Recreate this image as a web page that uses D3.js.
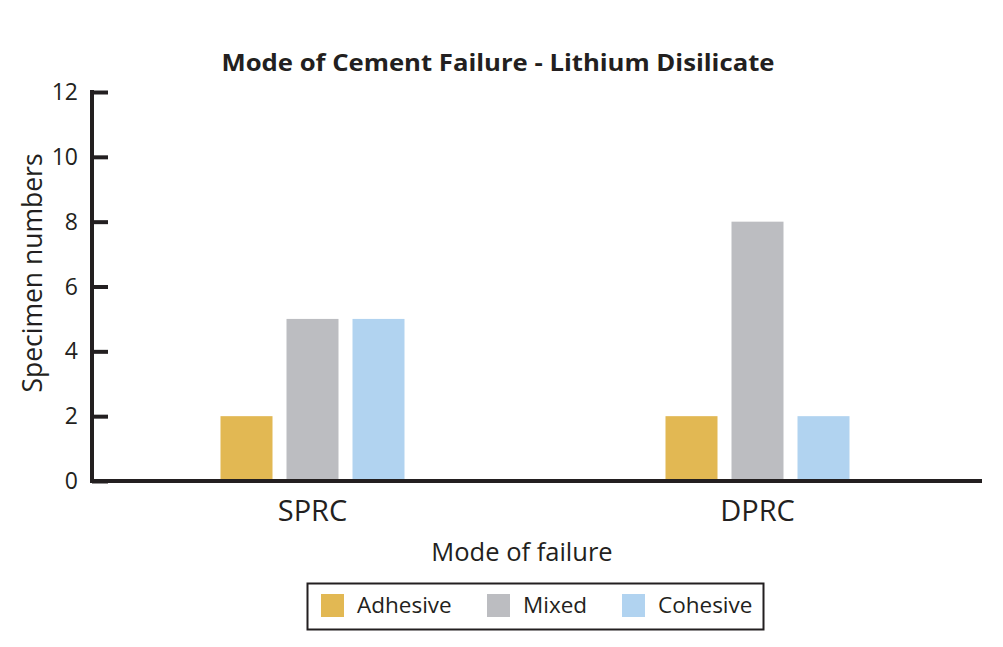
<!DOCTYPE html>
<html>
<head>
<meta charset="utf-8">
<script src="https://cdn.jsdelivr.net/npm/d3@7"></script>
<style>
  body { margin: 0; background: #fff; }
  text { font-family: "Open Sans", sans-serif; fill: #231f20; }
</style>
</head>
<body>
<div id="chart"></div>
<script>
// data
const categories = ["SPRC", "DPRC"];
const seriesNames = ["Adhesive", "Mixed", "Cohesive"];
const adhesive = [2, 2];
const mixed = [5, 8];
const cohesive = [5, 2];
const yTicks = [0, 2, 4, 6, 8, 10, 12];

const colors = {Adhesive: "#e2b853", Mixed: "#bcbdc1", Cohesive: "#b1d3f0"};
const values = {Adhesive: adhesive, Mixed: mixed, Cohesive: cohesive};

const width = 1003, height = 647;

const svg = d3.select("#chart").append("svg")
    .attr("width", width)
    .attr("height", height);

// scales
const x0 = d3.scaleBand()
    .domain(categories)
    .range([90, 980]);

const x1 = d3.scaleBand()
    .domain(seriesNames)
    .range([x0.bandwidth() / 2 - 92, x0.bandwidth() / 2 + 92])
    .paddingInner(14 / 66);

const y = d3.scaleLinear()
    .domain([0, 12])
    .range([481, 92]);

// bars
categories.forEach((c, i) => {
    svg.append("g")
        .selectAll("rect")
        .data(seriesNames)
        .enter().append("rect")
        .attr("x", s => x0(c) + x1(s))
        .attr("y", s => y(values[s][i]))
        .attr("width", x1.bandwidth())
        .attr("height", s => y(0) - y(values[s][i]))
        .attr("fill", s => colors[s]);
});

// y axis
const yAxis = svg.append("g")
    .attr("transform", "translate(92,0)")
    .call(d3.axisRight(y).tickValues(yTicks).tickSize(16).tickFormat(""));
yAxis.select(".domain").attr("stroke", "#231f20").attr("stroke-width", 4)
    .attr("d", "M0,90V483");
yAxis.selectAll(".tick line").attr("stroke", "#231f20").attr("stroke-width", 4);

svg.append("g").selectAll("text")
    .data(yTicks)
    .enter().append("text")
    .attr("x", 78)
    .attr("y", d => y(d) + 8)
    .attr("text-anchor", "end")
    .style("font-size", "23px")
    .text(d => d);

// x axis
const xAxis = svg.append("g")
    .attr("transform", "translate(0,481)")
    .call(d3.axisBottom(x0).tickSize(0).tickFormat(""));
xAxis.select(".domain").attr("stroke", "#231f20").attr("stroke-width", 4)
    .attr("d", "M90,0H982");

svg.append("g").selectAll("text")
    .data(categories)
    .enter().append("text")
    .attr("x", d => x0(d) + x0.bandwidth() / 2)
    .attr("y", 521)
    .attr("text-anchor", "middle")
    .style("font-size", "29px")
    .text(d => d);

// title and axis labels
svg.append("text")
    .attr("x", 498)
    .attr("y", 71)
    .attr("text-anchor", "middle")
    .style("font-size", "24px")
    .style("font-weight", "bold")
    .attr("textLength", 553)
    .attr("lengthAdjust", "spacingAndGlyphs")
    .text("Mode of Cement Failure - Lithium Disilicate");

svg.append("text")
    .attr("x", 522)
    .attr("y", 561)
    .attr("text-anchor", "middle")
    .style("font-size", "25.5px")
    .text("Mode of failure");

svg.append("text")
    .attr("transform", "translate(42,273) rotate(-90)")
    .attr("text-anchor", "middle")
    .style("font-size", "26.5px")
    .text("Specimen numbers");

// legend
svg.append("rect")
    .attr("x", 307.5)
    .attr("y", 583.5)
    .attr("width", 456)
    .attr("height", 46)
    .attr("fill", "none")
    .attr("stroke", "#231f20")
    .attr("stroke-width", 2);

const legendX = [321, 487, 622];
const legend = svg.selectAll(".legend")
    .data(seriesNames)
    .enter().append("g")
    .attr("transform", (d, i) => `translate(${legendX[i]},594)`);

legend.append("rect")
    .attr("width", 23)
    .attr("height", 23)
    .attr("fill", d => colors[d]);

legend.append("text")
    .attr("x", 36)
    .attr("y", 19)
    .style("font-size", "22.5px")
    .text(d => d);
</script>
</body>
</html>
